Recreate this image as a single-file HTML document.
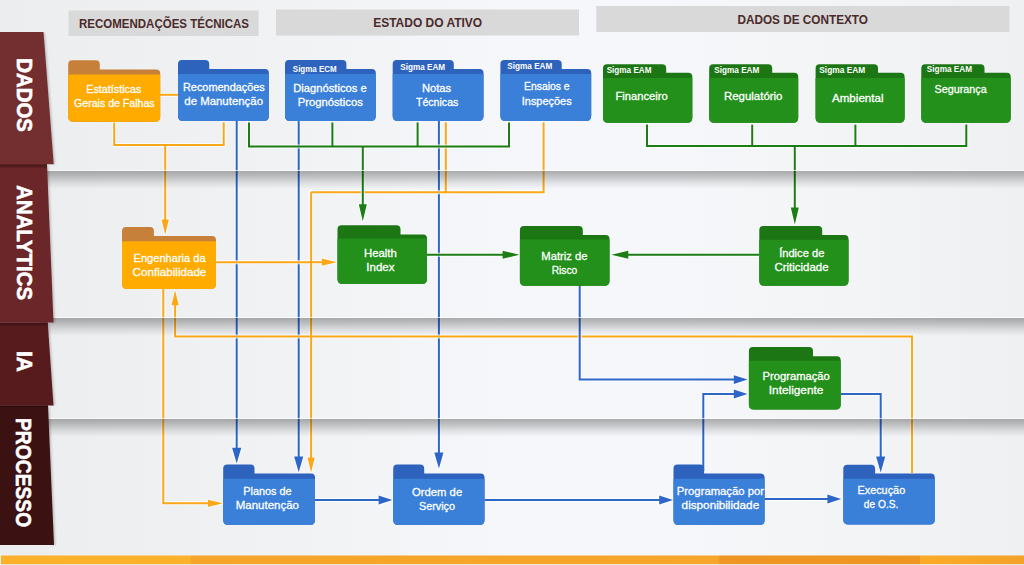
<!DOCTYPE html>
<html><head><meta charset="utf-8"><title>Diagram</title>
<style>html,body{margin:0;padding:0;background:#eeeff0;width:1024px;height:565px;overflow:hidden;font-family:"Liberation Sans", sans-serif;}</style>
</head><body><svg width="1024" height="565" viewBox="0 0 1024 565" style="display:block;font-family:&quot;Liberation Sans&quot;, sans-serif"><defs><filter id="blur1" x="-0.2" y="-0.2" width="1.4" height="1.4"><feGaussianBlur stdDeviation="1.3"/></filter><linearGradient id="bg" x1="0" y1="0" x2="1" y2="0"><stop offset="0" stop-color="#ecedee"/><stop offset="0.28" stop-color="#f0f2f4"/><stop offset="0.5" stop-color="#f6f7fa"/><stop offset="0.66" stop-color="#f6f7fa"/><stop offset="0.78" stop-color="#f4f5f7"/><stop offset="0.88" stop-color="#f2f3f5"/><stop offset="1" stop-color="#eff0f1"/></linearGradient><linearGradient id="sep" x1="0" y1="0" x2="0" y2="1"><stop offset="0" stop-color="#000" stop-opacity="0.31"/><stop offset="0.3" stop-color="#000" stop-opacity="0.215"/><stop offset="0.65" stop-color="#000" stop-opacity="0.09"/><stop offset="1" stop-color="#000" stop-opacity="0"/></linearGradient><linearGradient id="ribsh" x1="0" y1="0" x2="1" y2="0"><stop offset="0" stop-color="#000" stop-opacity="0.18"/><stop offset="1" stop-color="#000" stop-opacity="0"/></linearGradient><linearGradient id="bar" x1="0" y1="0" x2="1" y2="0"><stop offset="0" stop-color="#fdb02a"/><stop offset="0.185" stop-color="#fdb02a"/><stop offset="0.186" stop-color="#f4a52a"/><stop offset="0.70" stop-color="#f6a62a"/><stop offset="0.703" stop-color="#ee9522"/><stop offset="0.897" stop-color="#ee9522"/><stop offset="0.898" stop-color="#fbab27"/><stop offset="1" stop-color="#f5a229"/></linearGradient><linearGradient id="rsh" x1="0" y1="0" x2="0" y2="1"><stop offset="0" stop-color="#000" stop-opacity="0.25"/><stop offset="1" stop-color="#000" stop-opacity="0.05"/></linearGradient></defs><rect x="0" y="0" width="1024" height="565" fill="url(#bg)"/><rect x="1" y="555.5" width="1024" height="8.7" fill="url(#bar)"/><rect x="68.5" y="10.5" width="190" height="25.5" fill="#d8d9d8"/><rect x="276" y="9.5" width="303" height="26" fill="#d8d9d8"/><rect x="596.2" y="6" width="413.2" height="26" fill="#d8d9d8"/><text x="164" y="28.3" font-size="13" font-weight="bold" fill="#4b2a2b" text-anchor="middle" textLength="170" lengthAdjust="spacingAndGlyphs" >RECOMENDAÇÕES TÉCNICAS</text><text x="427.7" y="27.4" font-size="13" font-weight="bold" fill="#4b2a2b" text-anchor="middle" textLength="109" lengthAdjust="spacingAndGlyphs" >ESTADO DO ATIVO</text><text x="802.7" y="23.9" font-size="13" font-weight="bold" fill="#4b2a2b" text-anchor="middle" textLength="130.6" lengthAdjust="spacingAndGlyphs" >DADOS DE CONTEXTO</text><g opacity="0.75"><path d="M236.7,120.5 L236.7,454.12" fill="none" stroke="#fff" stroke-width="4" stroke-linejoin="miter" stroke-linecap="square"/><polygon points="236.7,463.6 232.1,447.8 241.29999999999998,447.8" fill="#fff" stroke="#fff" stroke-width="2" stroke-linejoin="round"/><path d="M298.7,120.5 L298.7,462.71999999999997" fill="none" stroke="#fff" stroke-width="4" stroke-linejoin="miter" stroke-linecap="square"/><polygon points="298.7,472.2 294.09999999999997,456.4 303.3,456.4" fill="#fff" stroke="#fff" stroke-width="2" stroke-linejoin="round"/><path d="M438.9,120.5 L438.9,458.91999999999996" fill="none" stroke="#fff" stroke-width="4" stroke-linejoin="miter" stroke-linecap="square"/><polygon points="438.9,468.4 434.29999999999995,452.59999999999997 443.5,452.59999999999997" fill="#fff" stroke="#fff" stroke-width="2" stroke-linejoin="round"/><path d="M315,500 L384.12,500" fill="none" stroke="#fff" stroke-width="4" stroke-linejoin="miter" stroke-linecap="square"/><polygon points="392.4,500 378.59999999999997,495.6 378.59999999999997,504.4" fill="#fff" stroke="#fff" stroke-width="2" stroke-linejoin="round"/><path d="M484.5,500 L664.72,500" fill="none" stroke="#fff" stroke-width="4" stroke-linejoin="miter" stroke-linecap="square"/><polygon points="673,500 659.2,495.6 659.2,504.4" fill="#fff" stroke="#fff" stroke-width="2" stroke-linejoin="round"/><path d="M764.6,499 L832.9200000000001,499" fill="none" stroke="#fff" stroke-width="4" stroke-linejoin="miter" stroke-linecap="square"/><polygon points="841.2,499 827.4000000000001,494.6 827.4000000000001,503.4" fill="#fff" stroke="#fff" stroke-width="2" stroke-linejoin="round"/></g><path d="M236.7,120.5 L236.7,454.12" fill="none" stroke="#2d66c8" stroke-width="2" stroke-linejoin="miter"/><polygon points="236.7,463.6 232.1,447.8 241.29999999999998,447.8" fill="#2d66c8"/><path d="M298.7,120.5 L298.7,462.71999999999997" fill="none" stroke="#2d66c8" stroke-width="2" stroke-linejoin="miter"/><polygon points="298.7,472.2 294.09999999999997,456.4 303.3,456.4" fill="#2d66c8"/><path d="M438.9,120.5 L438.9,458.91999999999996" fill="none" stroke="#2d66c8" stroke-width="2" stroke-linejoin="miter"/><polygon points="438.9,468.4 434.29999999999995,452.59999999999997 443.5,452.59999999999997" fill="#2d66c8"/><path d="M315,500 L384.12,500" fill="none" stroke="#2d66c8" stroke-width="2" stroke-linejoin="miter"/><polygon points="392.4,500 378.59999999999997,495.6 378.59999999999997,504.4" fill="#2d66c8"/><path d="M484.5,500 L664.72,500" fill="none" stroke="#2d66c8" stroke-width="2" stroke-linejoin="miter"/><polygon points="673,500 659.2,495.6 659.2,504.4" fill="#2d66c8"/><path d="M764.6,499 L832.9200000000001,499" fill="none" stroke="#2d66c8" stroke-width="2" stroke-linejoin="miter"/><polygon points="841.2,499 827.4000000000001,494.6 827.4000000000001,503.4" fill="#2d66c8"/><g opacity="0.75"><path d="M160,94.8 L178.5,94.8" fill="none" stroke="#fff" stroke-width="4" stroke-linejoin="miter" stroke-linecap="square"/><path d="M114.2,122.6 L114.2,145 L223.7,145 L223.7,122.2" fill="none" stroke="#fff" stroke-width="4" stroke-linejoin="miter" stroke-linecap="square"/><path d="M165.2,145 L165.2,225.5" fill="none" stroke="#fff" stroke-width="4" stroke-linejoin="miter" stroke-linecap="square"/><polygon points="165.2,234.5 161.6,219.5 168.79999999999998,219.5" fill="#fff" stroke="#fff" stroke-width="2" stroke-linejoin="round"/><path d="M445.8,122.2 L445.8,192.2 L543.6,192.2 L543.6,122.2" fill="none" stroke="#fff" stroke-width="4" stroke-linejoin="miter" stroke-linecap="square"/><path d="M311.1,192.2 L445.8,192.2" fill="none" stroke="#fff" stroke-width="4" stroke-linejoin="miter" stroke-linecap="square"/><path d="M311.1,192.2 L311.1,463.5" fill="none" stroke="#fff" stroke-width="4" stroke-linejoin="miter" stroke-linecap="square"/><polygon points="311.1,472.5 307.5,457.5 314.70000000000005,457.5" fill="#fff" stroke="#fff" stroke-width="2" stroke-linejoin="round"/><path d="M216,262.2 L311.1,262.2" fill="none" stroke="#fff" stroke-width="4" stroke-linejoin="miter" stroke-linecap="square"/><path d="M311.1,262.2 L327.8,262.2" fill="none" stroke="#fff" stroke-width="4" stroke-linejoin="miter" stroke-linecap="square"/><polygon points="336.8,262.2 321.8,258.59999999999997 321.8,265.8" fill="#fff" stroke="#fff" stroke-width="2" stroke-linejoin="round"/><path d="M163.3,289 L163.3,503.3 L213.9,503.3" fill="none" stroke="#fff" stroke-width="4" stroke-linejoin="miter" stroke-linecap="square"/><polygon points="222.9,503.3 207.9,499.7 207.9,506.90000000000003" fill="#fff" stroke="#fff" stroke-width="2" stroke-linejoin="round"/><path d="M912,473 L912,336.6 L175.1,336.6 L175.1,299.2" fill="none" stroke="#fff" stroke-width="4" stroke-linejoin="miter" stroke-linecap="square"/><polygon points="175.1,290.2 171.5,305.2 178.7,305.2" fill="#fff" stroke="#fff" stroke-width="2" stroke-linejoin="round"/></g><path d="M160,94.8 L178.5,94.8" fill="none" stroke="#faa718" stroke-width="2" stroke-linejoin="miter"/><path d="M114.2,122.6 L114.2,145 L223.7,145 L223.7,122.2" fill="none" stroke="#faa718" stroke-width="2" stroke-linejoin="miter"/><path d="M165.2,145 L165.2,225.5" fill="none" stroke="#faa718" stroke-width="2" stroke-linejoin="miter"/><polygon points="165.2,234.5 161.6,219.5 168.79999999999998,219.5" fill="#faa718"/><path d="M445.8,122.2 L445.8,192.2 L543.6,192.2 L543.6,122.2" fill="none" stroke="#faa718" stroke-width="2" stroke-linejoin="miter"/><path d="M311.1,192.2 L445.8,192.2" fill="none" stroke="#faa718" stroke-width="2" stroke-linejoin="miter"/><path d="M311.1,192.2 L311.1,463.5" fill="none" stroke="#faa718" stroke-width="2" stroke-linejoin="miter"/><polygon points="311.1,472.5 307.5,457.5 314.70000000000005,457.5" fill="#faa718"/><path d="M216,262.2 L311.1,262.2" fill="none" stroke="#faa718" stroke-width="2" stroke-linejoin="miter"/><path d="M311.1,262.2 L327.8,262.2" fill="none" stroke="#faa718" stroke-width="2" stroke-linejoin="miter"/><polygon points="336.8,262.2 321.8,258.59999999999997 321.8,265.8" fill="#faa718"/><path d="M163.3,289 L163.3,503.3 L213.9,503.3" fill="none" stroke="#faa718" stroke-width="2" stroke-linejoin="miter"/><polygon points="222.9,503.3 207.9,499.7 207.9,506.90000000000003" fill="#faa718"/><path d="M912,473 L912,336.6 L175.1,336.6 L175.1,299.2" fill="none" stroke="#faa718" stroke-width="2" stroke-linejoin="miter"/><polygon points="175.1,290.2 171.5,305.2 178.7,305.2" fill="#faa718"/><g opacity="0.75"><path d="M579.7,285 L579.7,379.6 L739.32,379.6" fill="none" stroke="#fff" stroke-width="4" stroke-linejoin="miter" stroke-linecap="square"/><polygon points="747.6,379.6 733.8000000000001,375.20000000000005 733.8000000000001,384.0" fill="#fff" stroke="#fff" stroke-width="2" stroke-linejoin="round"/><path d="M703.3,471 L703.3,394 L739.32,394" fill="none" stroke="#fff" stroke-width="4" stroke-linejoin="miter" stroke-linecap="square"/><polygon points="747.6,394 733.8000000000001,389.6 733.8000000000001,398.4" fill="#fff" stroke="#fff" stroke-width="2" stroke-linejoin="round"/><path d="M840.7,394 L880.7,394 L880.7,462.91999999999996" fill="none" stroke="#fff" stroke-width="4" stroke-linejoin="miter" stroke-linecap="square"/><polygon points="880.7,472.4 876.1,456.59999999999997 885.3000000000001,456.59999999999997" fill="#fff" stroke="#fff" stroke-width="2" stroke-linejoin="round"/></g><path d="M579.7,285 L579.7,379.6 L739.32,379.6" fill="none" stroke="#2d66c8" stroke-width="2" stroke-linejoin="miter"/><polygon points="747.6,379.6 733.8000000000001,375.20000000000005 733.8000000000001,384.0" fill="#2d66c8"/><path d="M703.3,471 L703.3,394 L739.32,394" fill="none" stroke="#2d66c8" stroke-width="2" stroke-linejoin="miter"/><polygon points="747.6,394 733.8000000000001,389.6 733.8000000000001,398.4" fill="#2d66c8"/><path d="M840.7,394 L880.7,394 L880.7,462.91999999999996" fill="none" stroke="#2d66c8" stroke-width="2" stroke-linejoin="miter"/><polygon points="880.7,472.4 876.1,456.59999999999997 885.3000000000001,456.59999999999997" fill="#2d66c8"/><g opacity="0.75"><path d="M249,122.4 L249,146.5 L509,146.5 L509,122.4" fill="none" stroke="#fff" stroke-width="4" stroke-linejoin="miter" stroke-linecap="square"/><path d="M332.4,122.4 L332.4,146.5" fill="none" stroke="#fff" stroke-width="4" stroke-linejoin="miter" stroke-linecap="square"/><path d="M417.6,122.4 L417.6,146.5" fill="none" stroke="#fff" stroke-width="4" stroke-linejoin="miter" stroke-linecap="square"/><path d="M362.8,146.5 L362.8,211.10000000000002" fill="none" stroke="#fff" stroke-width="4" stroke-linejoin="miter" stroke-linecap="square"/><polygon points="362.8,221.3 358.8,204.3 366.8,204.3" fill="#fff" stroke="#fff" stroke-width="2" stroke-linejoin="round"/><path d="M647,124.6 L647,146 L966.3,146 L966.3,124.6" fill="none" stroke="#fff" stroke-width="4" stroke-linejoin="miter" stroke-linecap="square"/><path d="M752.2,124.6 L752.2,146" fill="none" stroke="#fff" stroke-width="4" stroke-linejoin="miter" stroke-linecap="square"/><path d="M855.4,124.6 L855.4,146" fill="none" stroke="#fff" stroke-width="4" stroke-linejoin="miter" stroke-linecap="square"/><path d="M794.8,146 L794.8,214.4" fill="none" stroke="#fff" stroke-width="4" stroke-linejoin="miter" stroke-linecap="square"/><polygon points="794.8,224.6 790.8,207.6 798.8,207.6" fill="#fff" stroke="#fff" stroke-width="2" stroke-linejoin="round"/><path d="M427,254.7 L509.40000000000003,254.7" fill="none" stroke="#fff" stroke-width="4" stroke-linejoin="miter" stroke-linecap="square"/><polygon points="519.6,254.7 502.6,250.7 502.6,258.7" fill="#fff" stroke="#fff" stroke-width="2" stroke-linejoin="round"/><path d="M759,254.8 L621.5,254.8" fill="none" stroke="#fff" stroke-width="4" stroke-linejoin="miter" stroke-linecap="square"/><polygon points="611.3,254.8 628.3,250.8 628.3,258.8" fill="#fff" stroke="#fff" stroke-width="2" stroke-linejoin="round"/></g><path d="M249,122.4 L249,146.5 L509,146.5 L509,122.4" fill="none" stroke="#1c7d14" stroke-width="2" stroke-linejoin="miter"/><path d="M332.4,122.4 L332.4,146.5" fill="none" stroke="#1c7d14" stroke-width="2" stroke-linejoin="miter"/><path d="M417.6,122.4 L417.6,146.5" fill="none" stroke="#1c7d14" stroke-width="2" stroke-linejoin="miter"/><path d="M362.8,146.5 L362.8,211.10000000000002" fill="none" stroke="#1c7d14" stroke-width="2" stroke-linejoin="miter"/><polygon points="362.8,221.3 358.8,204.3 366.8,204.3" fill="#1c7d14"/><path d="M647,124.6 L647,146 L966.3,146 L966.3,124.6" fill="none" stroke="#1c7d14" stroke-width="2" stroke-linejoin="miter"/><path d="M752.2,124.6 L752.2,146" fill="none" stroke="#1c7d14" stroke-width="2" stroke-linejoin="miter"/><path d="M855.4,124.6 L855.4,146" fill="none" stroke="#1c7d14" stroke-width="2" stroke-linejoin="miter"/><path d="M794.8,146 L794.8,214.4" fill="none" stroke="#1c7d14" stroke-width="2" stroke-linejoin="miter"/><polygon points="794.8,224.6 790.8,207.6 798.8,207.6" fill="#1c7d14"/><path d="M427,254.7 L509.40000000000003,254.7" fill="none" stroke="#1c7d14" stroke-width="2" stroke-linejoin="miter"/><polygon points="519.6,254.7 502.6,250.7 502.6,258.7" fill="#1c7d14"/><path d="M759,254.8 L621.5,254.8" fill="none" stroke="#1c7d14" stroke-width="2" stroke-linejoin="miter"/><polygon points="611.3,254.8 628.3,250.8 628.3,258.8" fill="#1c7d14"/><rect x="40" y="170" width="1024" height="1" fill="#fff" opacity="0.7"/><rect x="40" y="171" width="1024" height="18" fill="url(#sep)"/><rect x="40" y="317" width="1024" height="1" fill="#fff" opacity="0.7"/><rect x="40" y="318" width="1024" height="18" fill="url(#sep)"/><rect x="40" y="418" width="1024" height="1" fill="#fff" opacity="0.7"/><rect x="40" y="419" width="1024" height="18" fill="url(#sep)"/><polygon points="45,406.5 49.5,406.5 55.5,545 51,545" fill="#000" opacity="0.2" filter="url(#blur1)"/><polygon points="0,405.5 48,405.5 54,545 0,545" fill="#3b1112"/><text transform="translate(15.6,418) rotate(90)" font-size="21.5" font-weight="bold" fill="#fff" stroke="#fff" stroke-width="0.6" textLength="109.2" lengthAdjust="spacingAndGlyphs">PROCESSO</text><polygon points="44.7,323.6 49.2,323.6 55.0,405.6 50.5,405.6" fill="#000" opacity="0.2" filter="url(#blur1)"/><polygon points="0,322.6 47.7,322.6 53.5,405.6 0,405.6" fill="#571b1d"/><text transform="translate(17.2,351) rotate(90)" font-size="21.5" font-weight="bold" fill="#fff" stroke="#fff" stroke-width="0.6" textLength="20.8" lengthAdjust="spacingAndGlyphs">IA</text><polygon points="44,165.3 48.5,165.3 55.0,322.6 50.5,322.6" fill="#000" opacity="0.2" filter="url(#blur1)"/><polygon points="0,164.3 47,164.3 53.5,322.6 0,322.6" fill="#6a2628"/><text transform="translate(17.2,185.3) rotate(90)" font-size="21.5" font-weight="bold" fill="#fff" stroke="#fff" stroke-width="0.6" textLength="114.7" lengthAdjust="spacingAndGlyphs">ANALYTICS</text><polygon points="40.5,33 45.0,33 55.2,164.3 50.7,164.3" fill="#000" opacity="0.2" filter="url(#blur1)"/><polygon points="0,32 43.5,32 53.7,164.3 0,164.3" fill="#732e30"/><text transform="translate(17.2,58.2) rotate(90)" font-size="21.5" font-weight="bold" fill="#fff" stroke="#fff" stroke-width="0.6" textLength="73.8" lengthAdjust="spacingAndGlyphs">DADOS</text><rect x="0" y="164.2" width="47" height="2.6" fill="#4f1a1b"/><rect x="0" y="166.8" width="47" height="1.2" fill="#5c2022"/><rect x="0" y="322.6" width="47.7" height="2.4" fill="#44141a"/><rect x="0" y="325" width="47.7" height="1" fill="#4d181b"/><rect x="0" y="405.5" width="48" height="1.5" fill="#2e0c0d"/><path d="M68.2,116.69999999999999 L68.2,64.3 Q68.2,60.3 72.2,60.3 L95.8,60.3 Q99.8,60.3 99.8,64.3 L99.8,69.6 L156.2,69.6 Q160.2,69.6 160.2,73.6 L160.2,116.69999999999999 Q160.2,121.69999999999999 155.2,121.69999999999999 L73.2,121.69999999999999 Q68.2,121.69999999999999 68.2,116.69999999999999 Z" fill="#c68039"/><path d="M68.2,74.6 L160.2,74.6 L160.2,116.69999999999999 Q160.2,121.69999999999999 155.2,121.69999999999999 L73.2,121.69999999999999 Q68.2,121.69999999999999 68.2,116.69999999999999 Z" fill="#ffab00"/><path d="M178,115.89999999999999 L178,64 Q178,60 182,60 L205.2,60 Q209.2,60 209.2,64 L209.2,68.9 L264.9,68.9 Q268.9,68.9 268.9,72.9 L268.9,115.89999999999999 Q268.9,120.89999999999999 263.9,120.89999999999999 L183,120.89999999999999 Q178,120.89999999999999 178,115.89999999999999 Z" fill="#2d62bd"/><path d="M178,74.1 L268.9,74.1 L268.9,115.89999999999999 Q268.9,120.89999999999999 263.9,120.89999999999999 L183,120.89999999999999 Q178,120.89999999999999 178,115.89999999999999 Z" fill="#3a80d9"/><path d="M285,115.89999999999999 L285,64 Q285,60 289,60 L342.4,60 Q346.4,60 346.4,64 L346.4,68.9 L371.8,68.9 Q375.8,68.9 375.8,72.9 L375.8,115.89999999999999 Q375.8,120.89999999999999 370.8,120.89999999999999 L290,120.89999999999999 Q285,120.89999999999999 285,115.89999999999999 Z" fill="#2d62bd"/><path d="M285,74.1 L375.8,74.1 L375.8,115.89999999999999 Q375.8,120.89999999999999 370.8,120.89999999999999 L290,120.89999999999999 Q285,120.89999999999999 285,115.89999999999999 Z" fill="#3a80d9"/><path d="M392.7,115.89999999999999 L392.7,64 Q392.7,60 396.7,60 L449.8,60 Q453.8,60 453.8,64 L453.8,68.9 L479.5,68.9 Q483.5,68.9 483.5,72.9 L483.5,115.89999999999999 Q483.5,120.89999999999999 478.5,120.89999999999999 L397.7,120.89999999999999 Q392.7,120.89999999999999 392.7,115.89999999999999 Z" fill="#2d62bd"/><path d="M392.7,74.1 L483.5,74.1 L483.5,115.89999999999999 Q483.5,120.89999999999999 478.5,120.89999999999999 L397.7,120.89999999999999 Q392.7,120.89999999999999 392.7,115.89999999999999 Z" fill="#3a80d9"/><path d="M500.4,115.89999999999999 L500.4,64 Q500.4,60 504.4,60 L557.7,60 Q561.7,60 561.7,64 L561.7,68.9 L587.2,68.9 Q591.2,68.9 591.2,72.9 L591.2,115.89999999999999 Q591.2,120.89999999999999 586.2,120.89999999999999 L505.4,120.89999999999999 Q500.4,120.89999999999999 500.4,115.89999999999999 Z" fill="#2d62bd"/><path d="M500.4,74.1 L591.2,74.1 L591.2,115.89999999999999 Q591.2,120.89999999999999 586.2,120.89999999999999 L505.4,120.89999999999999 Q500.4,120.89999999999999 500.4,115.89999999999999 Z" fill="#3a80d9"/><path d="M603,117.69999999999999 L603,68.2 Q603,64.2 607,64.2 L662.2,64.2 Q666.2,64.2 666.2,68.2 L666.2,72.7 L688.3,72.7 Q692.3,72.7 692.3,76.7 L692.3,117.69999999999999 Q692.3,122.69999999999999 687.3,122.69999999999999 L608,122.69999999999999 Q603,122.69999999999999 603,117.69999999999999 Z" fill="#1c7613"/><path d="M603,78 L692.3,78 L692.3,117.69999999999999 Q692.3,122.69999999999999 687.3,122.69999999999999 L608,122.69999999999999 Q603,122.69999999999999 603,117.69999999999999 Z" fill="#22901a"/><path d="M709.2,117.69999999999999 L709.2,68.2 Q709.2,64.2 713.2,64.2 L768.2,64.2 Q772.2,64.2 772.2,68.2 L772.2,72.7 L794.2,72.7 Q798.2,72.7 798.2,76.7 L798.2,117.69999999999999 Q798.2,122.69999999999999 793.2,122.69999999999999 L714.2,122.69999999999999 Q709.2,122.69999999999999 709.2,117.69999999999999 Z" fill="#1c7613"/><path d="M709.2,78 L798.2,78 L798.2,117.69999999999999 Q798.2,122.69999999999999 793.2,122.69999999999999 L714.2,122.69999999999999 Q709.2,122.69999999999999 709.2,117.69999999999999 Z" fill="#22901a"/><path d="M815.6,117.69999999999999 L815.6,68.2 Q815.6,64.2 819.6,64.2 L874,64.2 Q878,64.2 878,68.2 L878,72.7 L900.6,72.7 Q904.6,72.7 904.6,76.7 L904.6,117.69999999999999 Q904.6,122.69999999999999 899.6,122.69999999999999 L820.6,122.69999999999999 Q815.6,122.69999999999999 815.6,117.69999999999999 Z" fill="#1c7613"/><path d="M815.6,78 L904.6,78 L904.6,117.69999999999999 Q904.6,122.69999999999999 899.6,122.69999999999999 L820.6,122.69999999999999 Q815.6,122.69999999999999 815.6,117.69999999999999 Z" fill="#22901a"/><path d="M921.3,117.69999999999999 L921.3,68.2 Q921.3,64.2 925.3,64.2 L980.5,64.2 Q984.5,64.2 984.5,68.2 L984.5,72.7 L1006.7,72.7 Q1010.7,72.7 1010.7,76.7 L1010.7,117.69999999999999 Q1010.7,122.69999999999999 1005.7,122.69999999999999 L926.3,122.69999999999999 Q921.3,122.69999999999999 921.3,117.69999999999999 Z" fill="#1c7613"/><path d="M921.3,78 L1010.7,78 L1010.7,117.69999999999999 Q1010.7,122.69999999999999 1005.7,122.69999999999999 L926.3,122.69999999999999 Q921.3,122.69999999999999 921.3,117.69999999999999 Z" fill="#22901a"/><path d="M122,284.0 L122,231 Q122,227 126,227 L149.9,227 Q153.9,227 153.9,231 L153.9,236 L212,236 Q216,236 216,240 L216,284.0 Q216,289.0 211,289.0 L127,289.0 Q122,289.0 122,284.0 Z" fill="#c68039"/><path d="M122,241.3 L216,241.3 L216,284.0 Q216,289.0 211,289.0 L127,289.0 Q122,289.0 122,284.0 Z" fill="#ffab00"/><path d="M337.5,279.1 L337.5,229.2 Q337.5,225.2 341.5,225.2 L396.5,225.2 Q400.5,225.2 400.5,229.2 L400.5,234.4 L423,234.4 Q427,234.4 427,238.4 L427,279.1 Q427,284.1 422,284.1 L342.5,284.1 Q337.5,284.1 337.5,279.1 Z" fill="#1c7613"/><path d="M337.5,238.5 L427,238.5 L427,279.1 Q427,284.1 422,284.1 L342.5,284.1 Q337.5,284.1 337.5,279.1 Z" fill="#22901a"/><path d="M519.9,280.8 L519.9,230.1 Q519.9,226.1 523.9,226.1 L578.8,226.1 Q582.8,226.1 582.8,230.1 L582.8,235.1 L605.5,235.1 Q609.5,235.1 609.5,239.1 L609.5,280.8 Q609.5,285.8 604.5,285.8 L524.9,285.8 Q519.9,285.8 519.9,280.8 Z" fill="#1c7613"/><path d="M519.9,239.6 L609.5,239.6 L609.5,280.8 Q609.5,285.8 604.5,285.8 L524.9,285.8 Q519.9,285.8 519.9,280.8 Z" fill="#22901a"/><path d="M759.3,280.70000000000005 L759.3,229.9 Q759.3,225.9 763.3,225.9 L818.2,225.9 Q822.2,225.9 822.2,229.9 L822.2,235 L844.5,235 Q848.5,235 848.5,239 L848.5,280.70000000000005 Q848.5,285.70000000000005 843.5,285.70000000000005 L764.3,285.70000000000005 Q759.3,285.70000000000005 759.3,280.70000000000005 Z" fill="#1c7613"/><path d="M759.3,239.7 L848.5,239.7 L848.5,280.70000000000005 Q848.5,285.70000000000005 843.5,285.70000000000005 L764.3,285.70000000000005 Q759.3,285.70000000000005 759.3,280.70000000000005 Z" fill="#22901a"/><path d="M748.9,404.6 L748.9,351 Q748.9,347 752.9,347 L809,347 Q813,347 813,351 L813,356.3 L836.7,356.3 Q840.7,356.3 840.7,360.3 L840.7,404.6 Q840.7,409.6 835.7,409.6 L753.9,409.6 Q748.9,409.6 748.9,404.6 Z" fill="#1c7613"/><path d="M748.9,360.8 L840.7,360.8 L840.7,404.6 Q840.7,409.6 835.7,409.6 L753.9,409.6 Q748.9,409.6 748.9,404.6 Z" fill="#22901a"/><path d="M223.2,520.1 L223.2,468.6 Q223.2,464.6 227.2,464.6 L250.5,464.6 Q254.5,464.6 254.5,468.6 L254.5,473.5 L311,473.5 Q315,473.5 315,477.5 L315,520.1 Q315,525.1 310,525.1 L228.2,525.1 Q223.2,525.1 223.2,520.1 Z" fill="#2d62bd"/><path d="M223.2,478.8 L315,478.8 L315,520.1 Q315,525.1 310,525.1 L228.2,525.1 Q223.2,525.1 223.2,520.1 Z" fill="#3a80d9"/><path d="M393.2,520.1 L393.2,468.6 Q393.2,464.6 397.2,464.6 L420.2,464.6 Q424.2,464.6 424.2,468.6 L424.2,473.5 L480.5,473.5 Q484.5,473.5 484.5,477.5 L484.5,520.1 Q484.5,525.1 479.5,525.1 L398.2,525.1 Q393.2,525.1 393.2,520.1 Z" fill="#2d62bd"/><path d="M393.2,478.8 L484.5,478.8 L484.5,520.1 Q484.5,525.1 479.5,525.1 L398.2,525.1 Q393.2,525.1 393.2,520.1 Z" fill="#3a80d9"/><path d="M673.5,520.1 L673.5,468.6 Q673.5,464.6 677.5,464.6 L700.1,464.6 Q704.1,464.6 704.1,468.6 L704.1,473.5 L760.6,473.5 Q764.6,473.5 764.6,477.5 L764.6,520.1 Q764.6,525.1 759.6,525.1 L678.5,525.1 Q673.5,525.1 673.5,520.1 Z" fill="#2d62bd"/><path d="M673.5,478.8 L764.6,478.8 L764.6,520.1 Q764.6,525.1 759.6,525.1 L678.5,525.1 Q673.5,525.1 673.5,520.1 Z" fill="#3a80d9"/><path d="M843.3,519.6 L843.3,468.8 Q843.3,464.8 847.3,464.8 L871.1,464.8 Q875.1,464.8 875.1,468.8 L875.1,473.6 L930.8,473.6 Q934.8,473.6 934.8,477.6 L934.8,519.6 Q934.8,524.6 929.8,524.6 L848.3,524.6 Q843.3,524.6 843.3,519.6 Z" fill="#2d62bd"/><path d="M843.3,478.8 L934.8,478.8 L934.8,519.6 Q934.8,524.6 929.8,524.6 L848.3,524.6 Q843.3,524.6 843.3,519.6 Z" fill="#3a80d9"/><text x="86.30" y="93.1" font-size="11.6" fill="#fff" textLength="55.04" lengthAdjust="spacingAndGlyphs" stroke="#fff" stroke-width="0.3">Estatísticas</text><text x="74.00" y="107.3" font-size="11.6" fill="#fff" textLength="80.68" lengthAdjust="spacingAndGlyphs" stroke="#fff" stroke-width="0.3">Gerais de Falhas</text><text x="182.98" y="90.8" font-size="11.6" fill="#fff" textLength="81.85" lengthAdjust="spacingAndGlyphs" stroke="#fff" stroke-width="0.3">Recomendações</text><text x="184.30" y="105.1" font-size="11.6" fill="#fff" textLength="78.70" lengthAdjust="spacingAndGlyphs" stroke="#fff" stroke-width="0.3">de Manutenção</text><text x="293.30" y="91.8" font-size="11.6" fill="#fff" textLength="73.36" lengthAdjust="spacingAndGlyphs" stroke="#fff" stroke-width="0.3">Diagnósticos e</text><text x="297.64" y="106" font-size="11.6" fill="#fff" textLength="65.19" lengthAdjust="spacingAndGlyphs" stroke="#fff" stroke-width="0.3">Prognósticos</text><text x="421.96" y="91.8" font-size="11.6" fill="#fff" textLength="29.21" lengthAdjust="spacingAndGlyphs" stroke="#fff" stroke-width="0.3">Notas</text><text x="415.98" y="106.4" font-size="11.6" fill="#fff" textLength="42.36" lengthAdjust="spacingAndGlyphs" stroke="#fff" stroke-width="0.3">Técnicas</text><text x="523.98" y="90.3" font-size="11.6" fill="#fff" textLength="45.68" lengthAdjust="spacingAndGlyphs" stroke="#fff" stroke-width="0.3">Ensaios e</text><text x="521.79" y="104.9" font-size="11.6" fill="#fff" textLength="49.87" lengthAdjust="spacingAndGlyphs" stroke="#fff" stroke-width="0.3">Inspeções</text><text x="615.47" y="99.6" font-size="11.6" fill="#fff" textLength="52.36" lengthAdjust="spacingAndGlyphs" stroke="#fff" stroke-width="0.3">Financeiro</text><text x="723.96" y="100.3" font-size="11.6" fill="#fff" textLength="58.53" lengthAdjust="spacingAndGlyphs" stroke="#fff" stroke-width="0.3">Regulatório</text><text x="832.00" y="101.8" font-size="11.6" fill="#fff" textLength="51.51" lengthAdjust="spacingAndGlyphs" stroke="#fff" stroke-width="0.3">Ambiental</text><text x="934.47" y="93.3" font-size="11.6" fill="#fff" textLength="52.19" lengthAdjust="spacingAndGlyphs" stroke="#fff" stroke-width="0.3">Segurança</text><text x="133.49" y="261.6" font-size="11.6" fill="#fff" textLength="72.21" lengthAdjust="spacingAndGlyphs" stroke="#fff" stroke-width="0.3">Engenharia da</text><text x="132.64" y="275.8" font-size="11.6" fill="#fff" textLength="73.72" lengthAdjust="spacingAndGlyphs" stroke="#fff" stroke-width="0.3">Confiabilidade</text><text x="363.98" y="256.6" font-size="11.6" fill="#fff" textLength="32.85" lengthAdjust="spacingAndGlyphs" stroke="#fff" stroke-width="0.3">Health</text><text x="366.32" y="271" font-size="11.6" fill="#fff" textLength="28.19" lengthAdjust="spacingAndGlyphs" stroke="#fff" stroke-width="0.3">Index</text><text x="541.30" y="259.5" font-size="11.6" fill="#fff" textLength="46.19" lengthAdjust="spacingAndGlyphs" stroke="#fff" stroke-width="0.3">Matriz de</text><text x="551.64" y="273.7" font-size="11.6" fill="#fff" textLength="25.68" lengthAdjust="spacingAndGlyphs" stroke="#fff" stroke-width="0.3">Risco</text><text x="779.15" y="257.4" font-size="11.6" fill="#fff" textLength="45.19" lengthAdjust="spacingAndGlyphs" stroke="#fff" stroke-width="0.3">Índice de</text><text x="774.47" y="271.4" font-size="11.6" fill="#fff" textLength="54.04" lengthAdjust="spacingAndGlyphs" stroke="#fff" stroke-width="0.3">Criticidade</text><text x="762.47" y="380.1" font-size="11.6" fill="#fff" textLength="67.38" lengthAdjust="spacingAndGlyphs" stroke="#fff" stroke-width="0.3">Programação</text><text x="768.81" y="394" font-size="11.6" fill="#fff" textLength="54.53" lengthAdjust="spacingAndGlyphs" stroke="#fff" stroke-width="0.3">Inteligente</text><text x="243.30" y="494.8" font-size="11.6" fill="#fff" textLength="48.36" lengthAdjust="spacingAndGlyphs" stroke="#fff" stroke-width="0.3">Planos de</text><text x="235.79" y="509.3" font-size="11.6" fill="#fff" textLength="63.21" lengthAdjust="spacingAndGlyphs" stroke="#fff" stroke-width="0.3">Manutenção</text><text x="412.00" y="495.6" font-size="11.6" fill="#fff" textLength="50.17" lengthAdjust="spacingAndGlyphs" stroke="#fff" stroke-width="0.3">Ordem de</text><text x="418.98" y="509.7" font-size="11.6" fill="#fff" textLength="36.02" lengthAdjust="spacingAndGlyphs" stroke="#fff" stroke-width="0.3">Serviço</text><text x="676.81" y="495.4" font-size="11.6" fill="#fff" textLength="87.21" lengthAdjust="spacingAndGlyphs" stroke="#fff" stroke-width="0.3">Programação por</text><text x="681.64" y="509.4" font-size="11.6" fill="#fff" textLength="77.53" lengthAdjust="spacingAndGlyphs" stroke="#fff" stroke-width="0.3">disponibilidade</text><text x="857.47" y="494.1" font-size="11.6" fill="#fff" textLength="47.72" lengthAdjust="spacingAndGlyphs" stroke="#fff" stroke-width="0.3">Execução</text><text x="863.81" y="508.2" font-size="11.6" fill="#fff" textLength="34.53" lengthAdjust="spacingAndGlyphs" stroke="#fff" stroke-width="0.3">de O.S.</text><text x="292.83" y="71.8" font-size="8.6" font-weight="bold" fill="#fff" textLength="43.83" lengthAdjust="spacingAndGlyphs">Sigma ECM</text><text x="400.32" y="69.7" font-size="8.6" font-weight="bold" fill="#fff" textLength="44.85" lengthAdjust="spacingAndGlyphs">Sigma EAM</text><text x="507.32" y="69.3" font-size="8.6" font-weight="bold" fill="#fff" textLength="45.04" lengthAdjust="spacingAndGlyphs">Sigma EAM</text><text x="606.66" y="72.7" font-size="8.6" font-weight="bold" fill="#fff" textLength="44.85" lengthAdjust="spacingAndGlyphs">Sigma EAM</text><text x="714.32" y="72.7" font-size="8.6" font-weight="bold" fill="#fff" textLength="45.02" lengthAdjust="spacingAndGlyphs">Sigma EAM</text><text x="819.30" y="72.7" font-size="8.6" font-weight="bold" fill="#fff" textLength="45.89" lengthAdjust="spacingAndGlyphs">Sigma EAM</text><text x="926.81" y="72.3" font-size="8.6" font-weight="bold" fill="#fff" textLength="45.38" lengthAdjust="spacingAndGlyphs">Sigma EAM</text></svg></body></html>
